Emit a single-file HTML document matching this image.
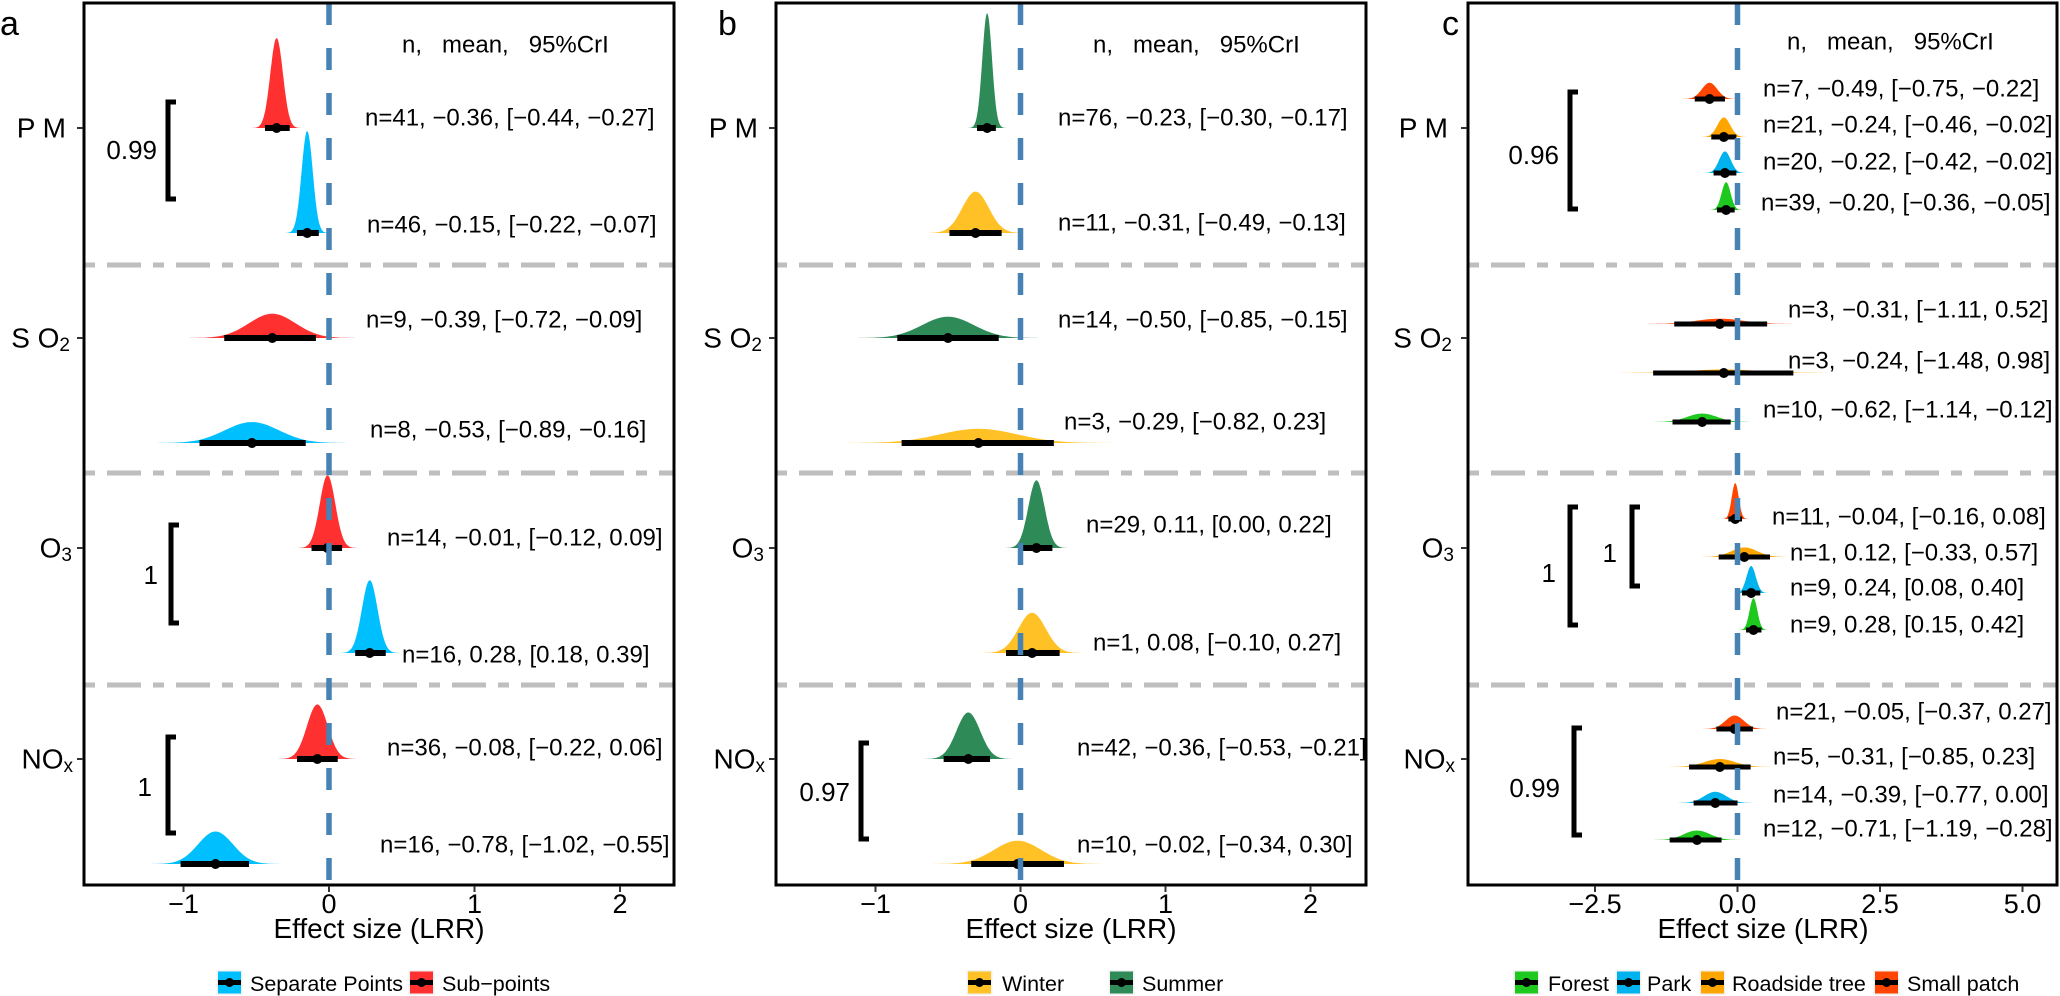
<!DOCTYPE html>
<html><head><meta charset="utf-8">
<style>
html,body{margin:0;padding:0;background:#fff;}
svg{display:block;font-family:"Liberation Sans",Arial,sans-serif;}
</style></head>
<body>
<svg id="s" width="2060" height="996" viewBox="0 0 2060 996" xmlns="http://www.w3.org/2000/svg">
<rect width="2060" height="996" fill="#fff"/>
<g id="dens"></g>
<g stroke="#bebebe" stroke-width="5" stroke-dasharray="11 12 34 12" fill="none">
<line x1="84" x2="674" y1="265" y2="265"/><line x1="84" x2="674" y1="473" y2="473"/><line x1="84" x2="674" y1="685" y2="685"/>
<line x1="776" x2="1366" y1="265" y2="265"/><line x1="776" x2="1366" y1="473" y2="473"/><line x1="776" x2="1366" y1="685" y2="685"/>
<line x1="1468" x2="2057" y1="265" y2="265"/><line x1="1468" x2="2057" y1="473" y2="473"/><line x1="1468" x2="2057" y1="685" y2="685"/>
</g>
<g id="bars"></g>
<g stroke="#4682b4" stroke-width="5.5" stroke-dasharray="22 23" fill="none">
<line x1="329" x2="329" y1="3" y2="885"/>
<line x1="1020.5" x2="1020.5" y1="3" y2="885"/>
<line x1="1737.5" x2="1737.5" y1="3" y2="885"/>
</g>
<g fill="none" stroke="#000" stroke-width="3">
<rect x="84" y="3" width="590" height="882"/>
<rect x="776" y="3" width="590" height="882"/>
<rect x="1468" y="3" width="589" height="882"/>
</g>
<g stroke="#333" stroke-width="2">
<line x1="183.5" x2="183.5" y1="886" y2="892"/><line x1="329" x2="329" y1="886" y2="892"/><line x1="474.5" x2="474.5" y1="886" y2="892"/><line x1="620" x2="620" y1="886" y2="892"/>
<line x1="875.5" x2="875.5" y1="886" y2="892"/><line x1="1020.5" x2="1020.5" y1="886" y2="892"/><line x1="1165.5" x2="1165.5" y1="886" y2="892"/><line x1="1310.5" x2="1310.5" y1="886" y2="892"/>
<line x1="1595" x2="1595" y1="886" y2="892"/><line x1="1737.5" x2="1737.5" y1="886" y2="892"/><line x1="1880" x2="1880" y1="886" y2="892"/><line x1="2022.5" x2="2022.5" y1="886" y2="892"/>
<line x1="77" x2="83" y1="128" y2="128"/><line x1="77" x2="83" y1="338" y2="338"/><line x1="77" x2="83" y1="548" y2="548"/><line x1="77" x2="83" y1="759" y2="759"/>
<line x1="769" x2="775" y1="128" y2="128"/><line x1="769" x2="775" y1="338" y2="338"/><line x1="769" x2="775" y1="548" y2="548"/><line x1="769" x2="775" y1="759" y2="759"/>
<line x1="1461" x2="1467" y1="128" y2="128"/><line x1="1461" x2="1467" y1="338" y2="338"/><line x1="1461" x2="1467" y1="548" y2="548"/><line x1="1461" x2="1467" y1="759" y2="759"/>
</g>
<g font-size="27" fill="#000" text-anchor="middle">
<text x="183.5" y="913">−1</text><text x="329" y="913">0</text><text x="474.5" y="913">1</text><text x="620" y="913">2</text>
<text x="875.5" y="913">−1</text><text x="1020.5" y="913">0</text><text x="1165.5" y="913">1</text><text x="1310.5" y="913">2</text>
<text x="1595" y="913">−2.5</text><text x="1737.5" y="913">0.0</text><text x="1880" y="913">2.5</text><text x="2022.5" y="913">5.0</text>
</g>
<g font-size="28" fill="#000" text-anchor="middle">
<text x="379" y="938">Effect size (LRR)</text>
<text x="1071" y="938">Effect size (LRR)</text>
<text x="1763" y="938">Effect size (LRR)</text>
</g>
<g font-size="28" fill="#000" text-anchor="end" dominant-baseline="central">
<text x="66" y="128">P M</text><text x="70" y="338">S O<tspan font-size="19" dy="7">2</tspan></text><text x="72" y="548">O<tspan font-size="19" dy="7">3</tspan></text><text x="73" y="759">NO<tspan font-size="19" dy="7">x</tspan></text>
<text x="758" y="128">P M</text><text x="762" y="338">S O<tspan font-size="19" dy="7">2</tspan></text><text x="764" y="548">O<tspan font-size="19" dy="7">3</tspan></text><text x="765" y="759">NO<tspan font-size="19" dy="7">x</tspan></text>
<text x="1448" y="128">P M</text><text x="1452" y="338">S O<tspan font-size="19" dy="7">2</tspan></text><text x="1454" y="548">O<tspan font-size="19" dy="7">3</tspan></text><text x="1455" y="759">NO<tspan font-size="19" dy="7">x</tspan></text>
</g>
<g font-size="34" fill="#000"><text x="0" y="35">a</text><text x="718" y="35">b</text><text x="1442" y="35">c</text></g>
<g font-size="24" fill="#000" dominant-baseline="central">
<text x="402" y="45" xml:space="preserve">n,   mean,   95%CrI</text>
<text x="1093" y="45" xml:space="preserve">n,   mean,   95%CrI</text>
<text x="1787" y="42" xml:space="preserve">n,   mean,   95%CrI</text>
<text x="365" y="118">n=41, −0.36, [−0.44, −0.27]</text>
<text x="367" y="225">n=46, −0.15, [−0.22, −0.07]</text>
<text x="366" y="320">n=9, −0.39, [−0.72, −0.09]</text>
<text x="370" y="430">n=8, −0.53, [−0.89, −0.16]</text>
<text x="387" y="538">n=14, −0.01, [−0.12, 0.09]</text>
<text x="402" y="655">n=16, 0.28, [0.18, 0.39]</text>
<text x="387" y="748">n=36, −0.08, [−0.22, 0.06]</text>
<text x="380" y="845">n=16, −0.78, [−1.02, −0.55]</text>
<text x="1058" y="118">n=76, −0.23, [−0.30, −0.17]</text>
<text x="1058" y="223">n=11, −0.31, [−0.49, −0.13]</text>
<text x="1058" y="320">n=14, −0.50, [−0.85, −0.15]</text>
<text x="1064" y="422">n=3, −0.29, [−0.82, 0.23]</text>
<text x="1086" y="525">n=29, 0.11, [0.00, 0.22]</text>
<text x="1093" y="643">n=1, 0.08, [−0.10, 0.27]</text>
<text x="1077" y="748">n=42, −0.36, [−0.53, −0.21]</text>
<text x="1077" y="845">n=10, −0.02, [−0.34, 0.30]</text>
<text x="1763" y="89">n=7, −0.49, [−0.75, −0.22]</text>
<text x="1763" y="125">n=21, −0.24, [−0.46, −0.02]</text>
<text x="1763" y="162">n=20, −0.22, [−0.42, −0.02]</text>
<text x="1761" y="203">n=39, −0.20, [−0.36, −0.05]</text>
<text x="1788" y="310">n=3, −0.31, [−1.11, 0.52]</text>
<text x="1788" y="361">n=3, −0.24, [−1.48, 0.98]</text>
<text x="1763" y="410">n=10, −0.62, [−1.14, −0.12]</text>
<text x="1772" y="517">n=11, −0.04, [−0.16, 0.08]</text>
<text x="1790" y="553">n=1, 0.12, [−0.33, 0.57]</text>
<text x="1790" y="588">n=9, 0.24, [0.08, 0.40]</text>
<text x="1790" y="625">n=9, 0.28, [0.15, 0.42]</text>
<text x="1776" y="712">n=21, −0.05, [−0.37, 0.27]</text>
<text x="1773" y="757">n=5, −0.31, [−0.85, 0.23]</text>
<text x="1773" y="795">n=14, −0.39, [−0.77, 0.00]</text>
<text x="1763" y="829">n=12, −0.71, [−1.19, −0.28]</text>
</g>
<g fill="none" stroke="#000" stroke-width="5">
<path d="M176 102H168V199H176"/>
<path d="M179 525H171V623H179"/>
<path d="M176 737H168V833H176"/>
<path d="M869 743H861V839H869"/>
<path d="M1578 92H1570V209H1578"/>
<path d="M1578 507H1570V625H1578"/>
<path d="M1640 507H1632V586H1640"/>
<path d="M1582 728H1574V835H1582"/>
</g>
<g font-size="26" fill="#000" dominant-baseline="central" text-anchor="end">
<text x="157" y="150">0.99</text><text x="158" y="575">1</text><text x="152" y="787">1</text>
<text x="850" y="792">0.97</text>
<text x="1559" y="155">0.96</text><text x="1556" y="573">1</text><text x="1617" y="553">1</text><text x="1560" y="788">0.99</text>
</g>
<g id="leg"></g>
<g font-size="21.5" fill="#000">
<text x="250" y="991">Separate Points</text><text x="442" y="991">Sub−points</text>
<text x="1002" y="991">Winter</text><text x="1142" y="991">Summer</text>
<text x="1548" y="991">Forest</text><text x="1647" y="991">Park</text><text x="1732" y="991">Roadside tree</text><text x="1907" y="991">Small patch</text>
</g>
</svg>
<script>
(function(){
var NS="http://www.w3.org/2000/svg";
var D=document.getElementById("dens"),B=document.getElementById("bars"),L=document.getElementById("leg");
function el(p,t,a){var e=document.createElementNS(NS,t);for(var k in a)e.setAttribute(k,a[k]);p.appendChild(e);return e;}
var RED="#ff3030",BLUE="#00bfff",GRN="#2e8b57",YEL="#ffc125",FOR="#1ec81e",PARK="#00b2ee",ROAD="#ffa500",SP="#ff4500";
var P=[
 [329,145.5,3.9,6,[[128,-0.36,-0.44,-0.27,RED],[233,-0.15,-0.22,-0.07,BLUE],[338,-0.39,-0.72,-0.09,RED],[443,-0.53,-0.89,-0.16,BLUE],[548,-0.01,-0.12,0.09,RED],[653,0.28,0.18,0.39,BLUE],[759,-0.08,-0.22,0.06,RED],[864,-0.78,-1.02,-0.55,BLUE]]],
 [1020.5,145,3.8,6,[[128,-0.23,-0.30,-0.17,GRN],[233,-0.31,-0.49,-0.13,YEL],[338,-0.50,-0.85,-0.15,GRN],[443,-0.29,-0.82,0.23,YEL],[548,0.11,0.00,0.22,GRN],[653,0.08,-0.10,0.27,YEL],[759,-0.36,-0.53,-0.21,GRN],[864,-0.02,-0.34,0.30,YEL]]],
 [1737.5,57,2.2,5,[[99,-0.49,-0.75,-0.22,SP],[137,-0.24,-0.46,-0.02,ROAD],[173,-0.22,-0.42,-0.02,PARK],[210,-0.20,-0.36,-0.05,FOR],
  [324,-0.31,-1.11,0.52,SP],[373,-0.24,-1.48,0.98,ROAD],[422,-0.62,-1.14,-0.12,FOR],
  [519,-0.04,-0.16,0.08,SP],[557,0.12,-0.33,0.57,ROAD],[593,0.24,0.08,0.40,PARK],[630,0.28,0.15,0.42,FOR],
  [729,-0.05,-0.37,0.27,SP],[767,-0.31,-0.85,0.23,ROAD],[803,-0.39,-0.77,0.00,PARK],[840,-0.71,-1.19,-0.28,FOR]]]
];
P.forEach(function(p){
 var z=p[0],u=p[1],k=p[2],bw=p[3];
 p[4].forEach(function(r){
  var y=r[0],m=r[1],lo=r[2],hi=r[3],c=r[4];
  var sd=(hi-lo)/3.92,h=k/sd;
  var d="M"+(z+(m-5*sd)*u).toFixed(1)+" "+y;
  for(var i=0;i<=120;i++){var t=-5+i/12,x=z+(m+t*sd)*u,yy=y-h*Math.exp(-0.5*t*t);d+="L"+x.toFixed(1)+" "+yy.toFixed(1);}
  d+="Z";
  el(D,"path",{d:d,fill:c});
  el(B,"line",{x1:z+lo*u,x2:z+hi*u,y1:y,y2:y,stroke:"#000","stroke-width":bw});
  el(B,"circle",{cx:z+m*u,cy:y,r:5,fill:"#000"});
 });
});
[[218,BLUE],[410,RED],[968,YEL],[1110,GRN],[1515,FOR],[1617,PARK],[1701,ROAD],[1875,SP]].forEach(function(q){
 var x=q[0];
 el(L,"rect",{x:x-1.5,y:970,width:26,height:25,fill:"#f2f2f2"});
 el(L,"rect",{x:x,y:971.5,width:23,height:22,fill:q[1]});
 el(L,"line",{x1:x,x2:x+23,y1:982.5,y2:982.5,stroke:"#000","stroke-width":5});
 el(L,"circle",{cx:x+11.5,cy:982.5,r:4.5,fill:"#000"});
});
})();
</script>
</body></html>
